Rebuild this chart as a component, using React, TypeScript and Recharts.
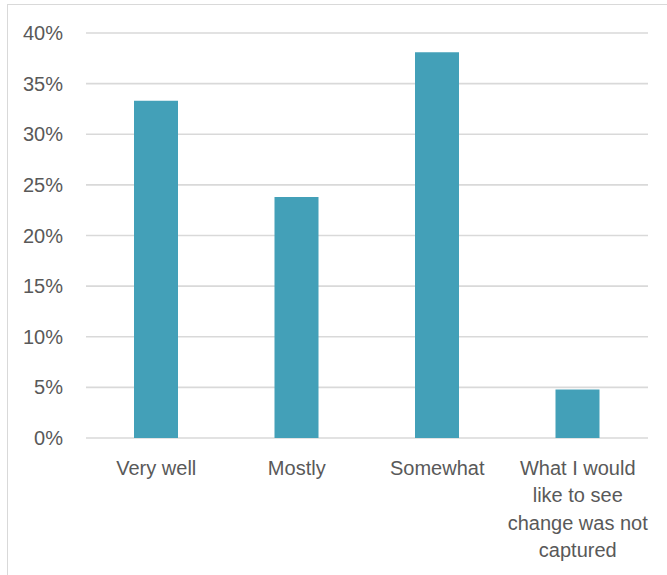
import React from "react";
import { BarChart, Bar, XAxis, YAxis, CartesianGrid } from "recharts";

const categories = [
  "Very well",
  "Mostly",
  "Somewhat",
  "What I would like to see change was not captured",
];
const categoryLines: string[][] = [
  ["Very well"],
  ["Mostly"],
  ["Somewhat"],
  ["What I would", "like to see", "change was not", "captured"],
];
const shares = [33.3, 23.8, 38.1, 4.8];
const yTicks = [0, 5, 10, 15, 20, 25, 30, 35, 40];

const data = categories.map((name, i) => ({ name, value: shares[i] }));

const FONT = "'Liberation Sans', Arial, sans-serif";
const TEXT = "#595959";

const CategoryTick = (props: any) => {
  const { x, y, index } = props;
  const lines = categoryLines[index] || [String(props.payload.value)];
  return (
    <text x={x} y={y} textAnchor="middle" fill={TEXT} fontFamily={FONT} fontSize={20}>
      {lines.map((line, i) => (
        <tspan key={i} x={x} y={y + 37 + i * 27.3}>
          {line}
        </tspan>
      ))}
    </text>
  );
};

export default function App() {
  return (
    <div style={{ position: "absolute", left: 0, top: 0, width: 667, height: 575, overflow: "hidden", background: "#fff" }}>
      <div
        style={{
          position: "absolute",
          left: 7,
          top: 4,
          width: 700,
          height: 600,
          border: "1px solid #d9d9d9",
          boxSizing: "border-box",
        }}
      />
      <div style={{ position: "absolute", left: 0, top: 0 }}>
        <BarChart
          width={667}
          height={575}
          data={data}
          margin={{ top: 33, right: 19, left: 0, bottom: 0 }}
        >
          <CartesianGrid vertical={false} stroke="#d9d9d9" strokeWidth={1.6} />
          <XAxis
            dataKey="name"
            axisLine={false}
            tickLine={false}
            tickSize={0}
            tickMargin={0}
            interval={0}
            tick={<CategoryTick />}
            height={137}
          />
          <YAxis
            width={86}
            domain={[0, 40]}
            ticks={yTicks}
            interval={0}
            axisLine={false}
            tickLine={false}
            tickSize={0}
            tickMargin={23}
            tickFormatter={(v: number) => `${v}%`}
            tick={{ fill: TEXT, fontFamily: FONT, fontSize: 20 }}
          />
          <Bar dataKey="value" fill="#43A0B8" barSize={44} isAnimationActive={false} />
        </BarChart>
      </div>
    </div>
  );
}
